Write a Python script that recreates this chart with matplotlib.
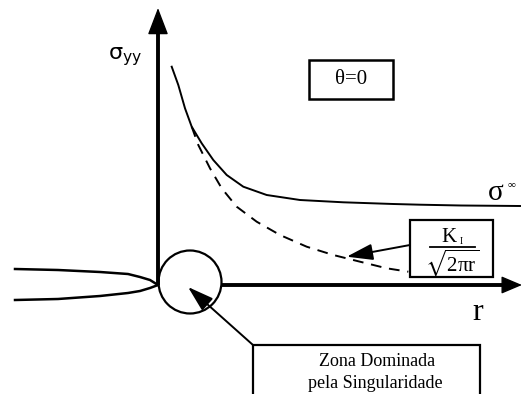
import numpy as np
import matplotlib
matplotlib.use('Agg')
import matplotlib.pyplot as plt
from matplotlib.patches import Circle, Rectangle

plt.rcParams['mathtext.default'] = 'regular'

# stress ahead of the crack tip (r, sigma_yy)
r_full = [13.7, 20.3, 27, 33.7, 43.7, 55.3, 68.7, 85.3, 108.7, 142, 185.3, 235.3, 262, 303, 362]
s_full = [218.3, 200, 176.7, 158.3, 141.7, 125, 110, 98.3, 90, 85, 82.7, 81, 80.3, 79.5, 79]

# singular term K_I / sqrt(2 pi r)
r_sing = [33.7, 40.3, 52, 63.7, 78.7, 98.7, 122, 148.7, 175.3, 202, 228.7, 250.3]
s_sing = [158.3, 140, 116.7, 96.7, 78.3, 63.3, 50, 38.3, 30, 23.3, 16.7, 13.3]

# crack faces
crack_r = [-143, -100, -58, -30, -18, -8, 0]
crack_up = [16, 15, 13, 11, 8, 5, 0]
crack_lo = [-15, -14, -11, -8, -6, -3, 0]

fig = plt.figure(figsize=(5.22, 3.94), dpi=100)
ax = fig.add_axes([0, 0, 1, 1])
ax.set_xlim(-158, 364)
ax.set_ylim(-109, 285)
ax.axis('off')

# axes of the sketch
ax.plot([0, 0], [0, 255], color='black', lw=2.8, solid_capstyle='butt')
ax.annotate('', xy=(0, 277), xytext=(0, 250),
            arrowprops=dict(arrowstyle='-|>,head_length=17,head_width=6.5',
                            mutation_scale=1, color='black', lw=1, shrinkA=0, shrinkB=0))
ax.plot([64, 345], [0, 0], color='black', lw=2.8, solid_capstyle='butt')
ax.annotate('', xy=(364, 0), xytext=(340, 0),
            arrowprops=dict(arrowstyle='-|>,head_length=13,head_width=5.5',
                            mutation_scale=1, color='black', lw=1, shrinkA=0, shrinkB=0))

# crack
ax.plot(crack_r, crack_up, color='black', lw=1.8)
ax.plot(crack_r, crack_lo, color='black', lw=1.8)

# stress curves
ax.plot(r_full, s_full, color='black', lw=1.4, solid_joinstyle='round')
ax.plot(r_sing, s_sing, color='black', lw=1.4, dashes=(5.5, 4))

# singularity zone
ax.add_patch(Circle((32, 3), 31.5, fill=False, lw=1.6, color='black'))

# labels
ax.text(-33, 228, r'$\sigma_{yy}$', fontsize=16, ha='center', va='center',
        math_fontfamily='dejavusans')
ax.add_patch(Rectangle((151, 186), 84, 39, fill=False, lw=1.8, color='black'))
ax.text(193, 205.5, 'θ=0', fontsize=15, ha='center', va='center',
        family='Liberation Serif')
ax.text(338, 92, 'σ', fontsize=21, ha='center', va='center',
        family='Liberation Serif')
ax.text(354, 100, '∞', fontsize=8, ha='center', va='center',
        family='Liberation Serif')
ax.text(320, -27, 'r', fontsize=23, ha='center', va='center',
        family='Liberation Serif')

# K_I box: numerator, fraction bar, root
ax.add_patch(Rectangle((252, 8), 83, 57, fill=False, lw=1.6, color='black'))
ax.text(291, 47, 'K', fontsize=15, ha='center', va='center',
        family='Liberation Serif')
ax.text(303, 44, 'I', fontsize=7, ha='center', va='center',
        family='Liberation Serif')
ax.plot([272, 317], [38, 38], color='black', lw=1.3)
ax.text(294, 22, r'$\sqrt{2\pi r}$', fontsize=15, ha='center', va='center',
        family='Liberation Serif', math_fontfamily='stix')
ax.annotate('', xy=(188.7, 28.3), xytext=(252, 40),
            arrowprops=dict(arrowstyle='-|>,head_length=16,head_width=5',
                            mutation_scale=1, color='black', lw=1.4, shrinkA=0, shrinkB=0))

# singularity zone box and its arrow
ax.add_patch(Rectangle((95, -130), 227, 70, fill=False, lw=1.6, color='black'))
ax.text(219, -77, 'Zona Dominada', fontsize=13, ha='center', va='center',
        family='Liberation Serif')
ax.text(217, -98, 'pela Singularidade', fontsize=13, ha='center', va='center',
        family='Liberation Serif')
ax.annotate('', xy=(30, -2), xytext=(95, -60),
            arrowprops=dict(arrowstyle='-|>,head_length=16,head_width=5',
                            mutation_scale=1, color='black', lw=1.4, shrinkA=0, shrinkB=0))

fig.savefig('out.png', dpi=100)
